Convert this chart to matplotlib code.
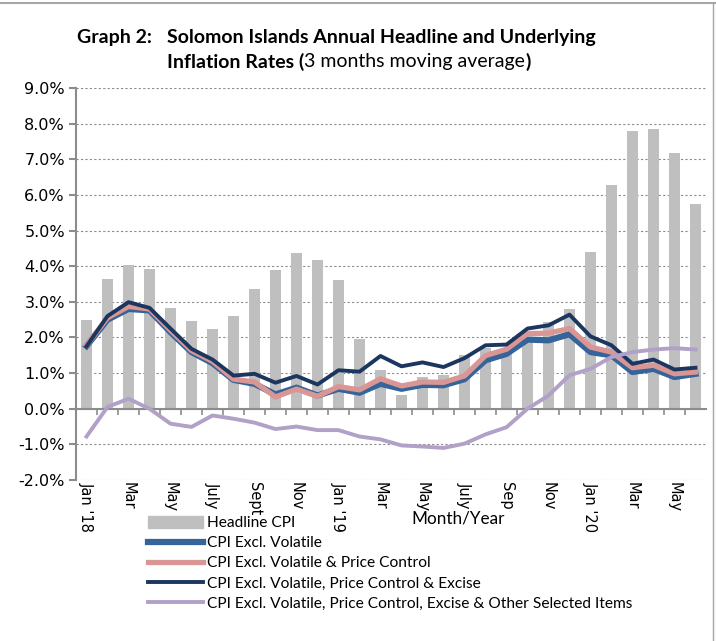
import numpy as np
import matplotlib.pyplot as plt
from matplotlib.patches import Patch
from matplotlib.lines import Line2D
from matplotlib.transforms import blended_transform_factory

plt.rcParams['font.family'] = ['Lato', 'DejaVu Sans']

# month labels (every second month is shown)
tick_labels = ["Jan '18", "", "Mar", "", "May", "", "July", "", "Sept", "", "Nov", "",
               "Jan '19", "", "Mar", "", "May", "", "July", "", "Sep", "", "Nov", "",
               "Jan '20", "", "Mar", "", "May", ""]

# annual inflation, % (3 months moving average)
headline = [2.50, 3.63, 4.02, 3.91, 2.84, 2.47, 2.25, 2.61, 3.35, 3.90, 4.37, 4.16,
            3.60, 1.95, 1.09, 0.38, 0.89, 0.96, 1.51, 1.70, 1.60, 1.95, 2.43, 2.81,
            4.40, 6.29, 7.80, 7.84, 7.19, 5.74]
excl_volatile = [1.76, 2.50, 2.80, 2.76, 2.15, 1.59, 1.28, 0.81, 0.70, 0.40, 0.59, 0.37,
                 0.56, 0.45, 0.70, 0.56, 0.67, 0.66, 0.83, 1.36, 1.54, 1.94, 1.92, 2.09,
                 1.59, 1.50, 1.03, 1.12, 0.89, 0.98]
excl_price = [1.78, 2.55, 2.87, 2.80, 2.20, 1.63, 1.33, 0.83, 0.75, 0.33, 0.55, 0.35,
              0.62, 0.53, 0.84, 0.64, 0.75, 0.74, 0.92, 1.49, 1.67, 2.11, 2.12, 2.25,
              1.73, 1.59, 1.15, 1.22, 0.98, 1.03]
excl_excise = [1.75, 2.60, 2.99, 2.83, 2.25, 1.68, 1.38, 0.93, 0.98, 0.73, 0.92, 0.68,
               1.08, 1.04, 1.48, 1.19, 1.30, 1.17, 1.42, 1.78, 1.80, 2.25, 2.34, 2.64,
               2.03, 1.78, 1.26, 1.38, 1.10, 1.15]
excl_other = [-0.78, 0.05, 0.28, 0.00, -0.42, -0.51, -0.19, -0.28, -0.39, -0.57, -0.50, -0.60,
              -0.60, -0.78, -0.86, -1.03, -1.06, -1.10, -0.98, -0.72, -0.52, 0.00, 0.37, 0.94,
              1.12, 1.45, 1.59, 1.66, 1.70, 1.66]

x = np.arange(len(headline))

fig = plt.figure(figsize=(7.16, 6.41), dpi=100)
ax = fig.add_axes([76 / 716, 1 - 480 / 641, 630 / 716, 392 / 641])

bar_c = "#BFBFBF"
c_vol, c_pc, c_exc, c_oth = "#34649A", "#D99694", "#1B365F", "#B1A0C7"

ax.bar(x, headline, width=0.48, color=bar_c, zorder=2)
ax.plot(x, excl_volatile, color=c_vol, lw=4.5, zorder=3, solid_joinstyle="round")
ax.plot(x, excl_price, color=c_pc, lw=3.8, zorder=4, solid_joinstyle="round")
ax.plot(x, excl_excise, color=c_exc, lw=2.8, zorder=5, solid_joinstyle="round")
ax.plot(x, excl_other, color=c_oth, lw=2.8, zorder=6, solid_joinstyle="round")

ax.set_xlim(-0.5, len(x) - 0.5)
ax.set_ylim(-2, 9)
ax.set_yticks(np.arange(-2, 10, 1))
ax.set_yticklabels([f"{v:.1f}%" for v in np.arange(-2, 10, 1)], fontsize=11.5,
                   family="DejaVu Sans")
ax.yaxis.grid(True, linestyle=(0, (2, 2)), color="#8C8C8C", lw=0.8, zorder=0)
ax.tick_params(axis="y", length=5, width=1.5, color="#8C8C8C", pad=3)

for s in ["top", "right"]:
    ax.spines[s].set_visible(False)
ax.spines["left"].set_color("#8C8C8C")
ax.spines["left"].set_linewidth(1.5)
ax.spines["bottom"].set_position(("data", 0))
ax.spines["bottom"].set_color("#8C8C8C")
ax.spines["bottom"].set_linewidth(1.5)
ax.set_xticks(np.arange(0.5, len(x) - 0.5, 1))
ax.set_xticklabels([])
ax.tick_params(axis="x", length=4, width=1.2, color="#8C8C8C")

trans = blended_transform_factory(ax.transData, ax.transAxes)
for i, lab in enumerate(tick_labels):
    if lab:
        ax.text(i, -0.005, lab, transform=trans, rotation=270, ha="center", va="top",
                fontsize=10.5, family="DejaVu Sans")

fig.text(458 / 716, 1 - 519 / 641, "Month/Year", ha="center", va="center", fontsize=12.3)

# title with mixed weights
fs_t = 14
fig.text(77 / 716, 1 - 38 / 641, "Graph 2:", fontsize=fs_t, fontweight="bold", va="center")
fig.text(167 / 716, 1 - 38 / 641, "Solomon Islands Annual Headline and Underlying",
         fontsize=fs_t, fontweight="bold", va="center")
renderer = fig.canvas.get_renderer()
t1 = fig.text(167 / 716, 1 - 62 / 641, "Inflation Rates (", fontsize=fs_t,
              fontweight="bold", va="center")
bb = t1.get_window_extent(renderer).transformed(fig.transFigure.inverted())
t2 = fig.text(bb.x1, 1 - 62 / 641, "3 months moving average", fontsize=fs_t, va="center")
bb = t2.get_window_extent(renderer).transformed(fig.transFigure.inverted())
fig.text(bb.x1, 1 - 62 / 641, ")", fontsize=fs_t, fontweight="bold", va="center")

# frame lines
fig.add_artist(Line2D([0, 1], [1 - 3 / 641, 1 - 3 / 641], color="#A6A6A6", lw=1.5))
fig.add_artist(Line2D([713 / 716, 713 / 716], [0, 1 - 3 / 641], color="#A6A6A6", lw=1.0))

handles = [Patch(color=bar_c),
           Line2D([], [], color=c_vol, lw=4.5),
           Line2D([], [], color=c_pc, lw=3.8),
           Line2D([], [], color=c_exc, lw=2.8),
           Line2D([], [], color=c_oth, lw=2.8)]
labels = ["Headline CPI", "CPI Excl. Volatile", "CPI Excl. Volatile & Price Control",
          "CPI Excl. Volatile, Price Control & Excise",
          "CPI Excl. Volatile, Price Control, Excise & Other Selected Items"]
fig.legend(handles, labels, loc="upper left", bbox_to_anchor=(140 / 716, 1 - 508 / 641),
           frameon=False, fontsize=11.2, handlelength=3.55, handleheight=0.85,
           handletextpad=0.25, labelspacing=0.35, borderpad=0)

fig.savefig("out.png", dpi=100)
